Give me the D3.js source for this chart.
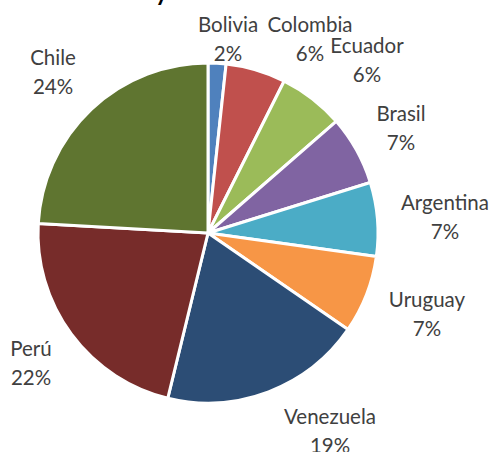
<!DOCTYPE html>
<html>
<head>
<meta charset="utf-8">
<script src="https://cdn.jsdelivr.net/npm/d3@7"></script>
<style>
  body { margin: 0; background: #fff; }
  svg { display: block; }
</style>
</head>
<body>
<svg id="chart" width="495" height="452"></svg>
<script>
// data, clockwise from 12 o'clock
var countries = ['Bolivia', 'Colombia', 'Ecuador', 'Brasil', 'Argentina', 'Uruguay', 'Venezuela', 'Perú', 'Chile'];
var shares = [1.7, 5.7, 6.2, 6.6, 7.0, 7.4, 19.2, 22.1, 24.1];
var colors = ['#4f81bd', '#c0504d', '#9bbb59', '#8064a2', '#4bacc6', '#f79646', '#2c4d75', '#772c2a', '#5f7530'];

// where Excel put each label (center x, baseline of the name line)
var labelPos = [[228, 32], [310, 32], [367, 53], [401, 121], [445, 210], [427, 307], [330, 424], [31, 356], [53, 65]];

var svg = d3.select('#chart'),
	cx = 208, cy = 233, radius = 170;

// title is cut off by the frame, only the descender shows
svg.append('text')
	.attr('x', 168).attr('y', 1)
	.attr('text-anchor', 'end')
	.attr('font-family', 'Lato, sans-serif')
	.attr('font-weight', 'bold')
	.attr('font-size', 24)
	.attr('fill', '#000')
	.text('y');

var total = d3.sum(shares);
var pie = d3.pie().sort(null).value(function(d) { return d; });
var arc = d3.arc().innerRadius(0).outerRadius(radius);
var arcs = pie(shares);

var g = svg.append('g').attr('transform', 'translate(' + cx + ',' + cy + ')');

g.selectAll('path').data(arcs).enter().append('path')
	.attr('d', arc)
	.attr('fill', function(d, i) { return colors[i]; })
	.attr('stroke', '#fff')
	.attr('stroke-width', 3)
	.attr('stroke-linejoin', 'round');

var fmt = function(v) { return Math.round(v / total * 100) + '%'; };

var labels = svg.selectAll('text.lbl').data(arcs).enter().append('text')
	.attr('class', 'lbl')
	.attr('text-anchor', 'middle')
	.attr('font-family', 'Lato, sans-serif')
	.attr('font-size', 20.5)
	.attr('fill', '#404040');

labels.append('tspan')
	.attr('x', function(d, i) { return labelPos[i][0]; })
	.attr('y', function(d, i) { return labelPos[i][1]; })
	.text(function(d, i) { return countries[i]; });

labels.append('tspan')
	.attr('x', function(d, i) { return labelPos[i][0]; })
	.attr('y', function(d, i) { return labelPos[i][1] + 29; })
	.text(function(d) { return fmt(d.value); });
</script>
</body>
</html>
